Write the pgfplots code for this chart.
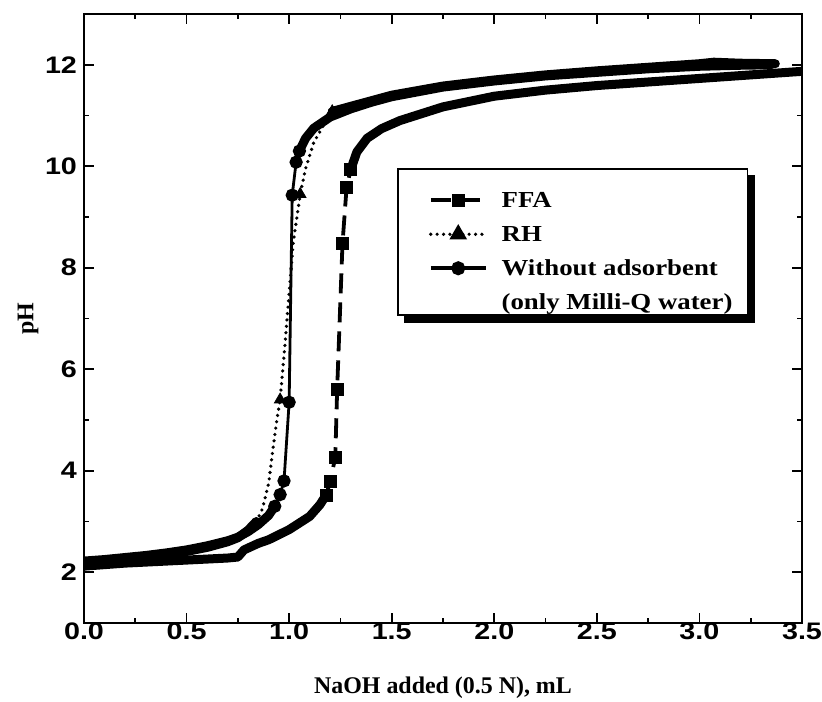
\documentclass[border=0pt]{standalone}
\usepackage{fontspec}
\setmainfont{Liberation Serif}
\setsansfont{Liberation Sans}
\newfontfamily\ticksfont{Liberation Sans}[FakeStretch=1.2]
\newfontfamily\legfont{Liberation Serif}[FakeStretch=1.17]
\usepackage{pgfplots}
\pgfplotsset{compat=1.18}

\begin{document}
\begin{tikzpicture}
\path[use as bounding box] (-42bp,-39.5bp) rectangle (369bp,311.5bp);
\begin{axis}[
  at={(0,0)}, anchor=south west,
  scale only axis, width=359bp, height=304.5bp,
  xmin=0, xmax=3.5, ymin=1, ymax=13,
  xtick={0,0.5,1,1.5,2,2.5,3,3.5}, ytick={2,4,6,8,10,12},
  minor x tick num=1, minor y tick num=1,
  tick align=inside,
  major tick length=5bp, minor tick length=2.5bp,
  axis line style={line width=1bp},
  every tick/.style={black, line width=0.9bp},
  /pgf/number format/assume math mode=true,
  tick label style={font=\ticksfont\bfseries\fontsize{12}{14}\selectfont},
  x tick label style={yshift=3.5bp, /pgf/number format/fixed, /pgf/number format/fixed zerofill, /pgf/number format/precision=1},
  xlabel={NaOH added (0.5 N), mL},
  ylabel={pH},
  label style={font=\bfseries\fontsize{12}{14}\selectfont},
  xlabel style={at={(rel axis cs:0.5,0)}, anchor=center, yshift=-32.5bp},
  ylabel style={at={(rel axis cs:0,0.5)}, anchor=center, yshift=28bp},
  legend image code/.code={
    \path (0bp,0bp) (42.5bp,0bp);
    \draw[mark repeat=2,mark phase=2,#1] plot coordinates {(8bp,-4.7bp) (21.75bp,-4.7bp) (35.5bp,-4.7bp)};
  },
  legend style={name=leg, at={(0.436,0.747)}, anchor=north west, draw=black, line width=0.8bp,
    fill=white, inner xsep=7.5bp, inner ysep=2.5bp,
    font=\legfont\bfseries\fontsize{11.5}{13}\selectfont,
    nodes={inner sep=0bp, text height=17bp, text depth=0bp}},
  legend cell align=left,
  band/.style={forget plot, black, line width=4.5bp, line join=round, line cap=round},
  ffaline/.style={black, line width=1.9bp, dash pattern=on 10bp off 4.5bp},
  rhline/.style={black, line width=1.8bp, line cap=round, dash pattern=on 0bp off 3.2bp},
  noline/.style={black, line width=1.4bp},
]
% ---------------- bands (dense markers) ----------------
% FFA
\addplot[band] coordinates {(0,2.12) (0.1,2.15) (0.2,2.18) (0.3,2.2) (0.4,2.22) (0.5,2.24) (0.6,2.26) (0.7,2.28) (0.75,2.3) (0.78,2.44) (0.85,2.57) (0.9,2.64) (1.0,2.84) (1.1,3.1) (1.15,3.33) (1.18,3.52)};
\addplot[band] coordinates {(1.30,9.93) (1.33,10.28) (1.38,10.55) (1.45,10.74) (1.54,10.9) (1.75,11.17) (2.0,11.38) (2.25,11.5) (2.5,11.59) (2.75,11.66) (3.0,11.73) (3.25,11.8) (3.5,11.87)};
% RH
\addplot[band] coordinates {(0,2.17) (0.1,2.21) (0.2,2.25) (0.3,2.29) (0.4,2.34) (0.5,2.41) (0.6,2.49) (0.7,2.6) (0.75,2.68) (0.8,2.83) (0.84,3.0)};
\addplot[band] coordinates {(1.21,11.08) (1.3,11.18) (1.5,11.4) (1.75,11.58) (2.0,11.7) (2.25,11.8) (2.5,11.88) (2.75,11.95) (3.0,12.02) (3.07,12.05) (3.2,12.03) (3.37,12.02)};
% Without adsorbent
\addplot[band] coordinates {(0,2.22) (0.1,2.25) (0.2,2.29) (0.3,2.33) (0.4,2.38) (0.5,2.44) (0.6,2.52) (0.7,2.62) (0.75,2.69) (0.8,2.8) (0.85,2.94) (0.9,3.12) (0.93,3.3)};
\addplot[band] coordinates {(1.05,10.3) (1.08,10.55) (1.12,10.75) (1.2,10.97) (1.3,11.13) (1.4,11.26) (1.5,11.37) (1.75,11.56) (2.0,11.68) (2.25,11.78) (2.5,11.85) (2.75,11.92) (3.0,11.97) (3.2,11.99) (3.35,12.0)};
% ---------------- steep parts ----------------
\addplot[ffaline, forget plot, mark=square*, mark size=2.3bp, mark options={solid}] coordinates {(1.18,3.52) (1.2,3.78) (1.225,4.27) (1.234,5.6) (1.26,8.47) (1.28,9.58) (1.30,9.93)};
\addplot[rhline, forget plot] coordinates {(0.84,3.0) (0.87,3.25) (0.9,3.75) (0.92,4.4) (0.94,5.0) (0.956,5.4) (0.98,6.5) (1.0,7.5) (1.02,8.5) (1.054,9.45) (1.08,9.95) (1.12,10.47) (1.175,10.86) (1.21,11.08)};
\addplot[forget plot, only marks, mark=triangle*, mark size=3.3bp] coordinates {(0.956,5.4) (1.054,9.45) (1.21,11.08)};
\addplot[noline, forget plot, mark=*, mark size=2.6bp] coordinates {(0.93,3.3) (0.956,3.53) (0.975,3.8) (1.0,5.35) (1.015,9.43) (1.034,10.08) (1.05,10.3)};
% ---------------- legend ----------------
\addlegendimage{ffaline, mark=square*, mark size=2.3bp, mark options={solid}}
\addlegendentry{FFA}
\addlegendimage{rhline, mark=triangle*, mark size=3.3bp, mark options={solid}}
\addlegendentry{RH}
\addlegendimage{noline, line width=1.8bp, mark=*, mark size=2.6bp}
\addlegendentry{Without adsorbent}
\addlegendimage{empty legend}
\addlegendentry{(only Milli-Q water)}
\end{axis}
% legend drop shadow (L-shaped strip)
\fill[black] ([yshift=-3.5bp]leg.north east) rectangle ([xshift=3.5bp,yshift=-3.5bp]leg.south east);
\fill[black] ([xshift=3.5bp]leg.south west) rectangle ([xshift=3.5bp,yshift=-3.5bp]leg.south east);
\end{tikzpicture}
\end{document}
